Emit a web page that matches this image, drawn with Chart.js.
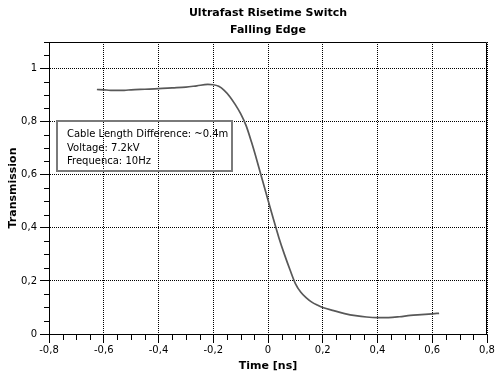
<!DOCTYPE html>
<html>
<head>
<meta charset="utf-8">
<script src="https://cdn.jsdelivr.net/npm/chart.js@4/dist/chart.umd.min.js"></script>
<style>
html,body{margin:0;padding:0;background:#fff;}
#c{display:block;}
</style>
</head>
<body>
<canvas id="c" width="500" height="380"></canvas>
<script>
const chartTitle = ['Ultrafast Risetime Switch', 'Falling Edge'];
const xTitle = 'Time [ns]';
const yTitle = 'Transmission';
const infoLines = ['Cable Length Difference: ~0.4m', 'Voltage: 7.2kV', 'Frequenca: 10Hz'];

const timeNs = [-0.625, -0.60, -0.575, -0.55, -0.525, -0.50, -0.45, -0.40, -0.35, -0.30, -0.26, -0.22, -0.20, -0.18, -0.16, -0.14, -0.12, -0.10, -0.08, -0.06, -0.04, -0.02, 0.00, 0.02, 0.04, 0.06, 0.08, 0.10, 0.12, 0.14, 0.16, 0.18, 0.20, 0.24, 0.28, 0.32, 0.36, 0.40, 0.44, 0.48, 0.52, 0.56, 0.60, 0.625];
const transmission = [0.921, 0.920, 0.918, 0.918, 0.918, 0.920, 0.922, 0.924, 0.927, 0.930, 0.935, 0.940, 0.939, 0.933, 0.918, 0.895, 0.865, 0.830, 0.785, 0.722, 0.652, 0.578, 0.505, 0.432, 0.362, 0.300, 0.243, 0.190, 0.157, 0.136, 0.120, 0.109, 0.100, 0.088, 0.077, 0.069, 0.064, 0.062, 0.062, 0.065, 0.070, 0.073, 0.076, 0.078];

const xRange = [-0.8, 0.8];
const yRange = [0, 1.1];
const majorStep = 0.2;
const minorStep = 0.05;

const FONT = "'DejaVu Sans', Tahoma, Verdana, sans-serif";

function fmt(v) {
  const r = Math.round(v * 100) / 100;
  return String(r).replace('.', ',');
}
function keepMajor(scale) {
  scale.ticks = scale.ticks.filter(t => Math.abs(t.value / majorStep - Math.round(t.value / majorStep)) < 1e-6);
}

const framePlugin = {
  id: 'frame',
  afterDraw(chart) {
    const {ctx, chartArea: a, scales} = chart;
    ctx.save();
    ctx.setLineDash([]);
    ctx.strokeStyle = '#000';
    ctx.lineWidth = 1;
    ctx.beginPath();
    ctx.rect(Math.round(a.left) + 0.5, Math.round(a.top) + 0.5, Math.round(a.right) - Math.round(a.left) - 1, Math.round(a.bottom) - Math.round(a.top));
    ctx.stroke();
    const xs = scales.x, ys = scales.y;
    ctx.beginPath();
    const nx = Math.round((xRange[1] - xRange[0]) / minorStep);
    for (let k = 0; k <= nx; k++) {
      if (k % 4 === 0) continue;
      const px = Math.round(xs.getPixelForValue(xRange[0] + k * minorStep)) + 0.5;
      ctx.moveTo(px, Math.round(a.bottom));
      ctx.lineTo(px, Math.round(a.bottom) + 6);
    }
    const ny = Math.round((yRange[1] - yRange[0]) / minorStep);
    for (let k = 0; k <= ny; k++) {
      if (k % 4 === 0) continue;
      const py = Math.round(ys.getPixelForValue(yRange[0] + k * minorStep)) + 0.5;
      ctx.moveTo(Math.round(a.left) - 5, py);
      ctx.lineTo(Math.round(a.left), py);
    }
    ctx.stroke();
    const bx = Math.round(a.left) + 8, by = 121, bw = 175, bh = 50;
    ctx.strokeStyle = '#7a7a7a';
    ctx.lineWidth = 2;
    ctx.strokeRect(bx, by, bw, bh);
    ctx.fillStyle = '#000';
    ctx.font = "10px " + FONT;
    ctx.textBaseline = 'alphabetic';
    ctx.textAlign = 'left';
    infoLines.forEach((t, i) => ctx.fillText(t, bx + 10, by + 16 + i * 13.5));
    ctx.restore();
  }
};

const points = timeNs.map((t, i) => ({x: t, y: transmission[i]}));

new Chart(document.getElementById('c'), {
  type: 'line',
  data: {
    datasets: [{
      data: points,
      borderColor: '#585858',
      borderWidth: 1.7,
      pointRadius: 0,
      fill: false,
      cubicInterpolationMode: 'monotone'
    }]
  },
  options: {
    responsive: false,
    animation: false,
    layout: {padding: {left: 0, right: 13, top: 0, bottom: 0}},
    plugins: {
      legend: {display: false},
      tooltip: {enabled: false},
      title: {
        display: true,
        text: chartTitle,
        fullSize: false,
        color: '#000',
        font: {family: FONT, size: 11, weight: 'bold', lineHeight: 1.5},
        padding: {top: 5, bottom: 4}
      }
    },
    scales: {
      x: {
        type: 'linear',
        min: xRange[0], max: xRange[1],
        afterFit(s) { s.height = 46; },
        afterBuildTicks: keepMajor,
        ticks: {stepSize: majorStep, color: '#000', font: {family: FONT, size: 10}, padding: 1, maxRotation: 0, callback: v => fmt(v)},
        grid: {color: '#000', lineWidth: 1, tickLength: 9, tickColor: '#000', drawTicks: true},
        border: {display: true, color: '#000', dash: [1, 1]},
        title: {display: true, text: xTitle, color: '#000', font: {family: FONT, size: 11, weight: 'bold', lineHeight: 1.2}, padding: {top: 0, bottom: 7}}
      },
      y: {
        type: 'linear',
        min: yRange[0], max: yRange[1],
        afterFit(s) { s.width = 49; },
        afterBuildTicks: keepMajor,
        ticks: {stepSize: majorStep, color: '#000', font: {family: FONT, size: 10}, padding: 3, callback: v => fmt(v)},
        grid: {color: '#000', lineWidth: 1, tickLength: 9, tickColor: '#000', drawTicks: true},
        border: {display: true, color: '#000', dash: [1, 1]},
        title: {display: true, text: yTitle, color: '#000', font: {family: FONT, size: 11, weight: 'bold', lineHeight: 1.2}, padding: {top: 7, bottom: 0}}
      }
    }
  },
  plugins: [framePlugin]
});
</script>
</body>
</html>
